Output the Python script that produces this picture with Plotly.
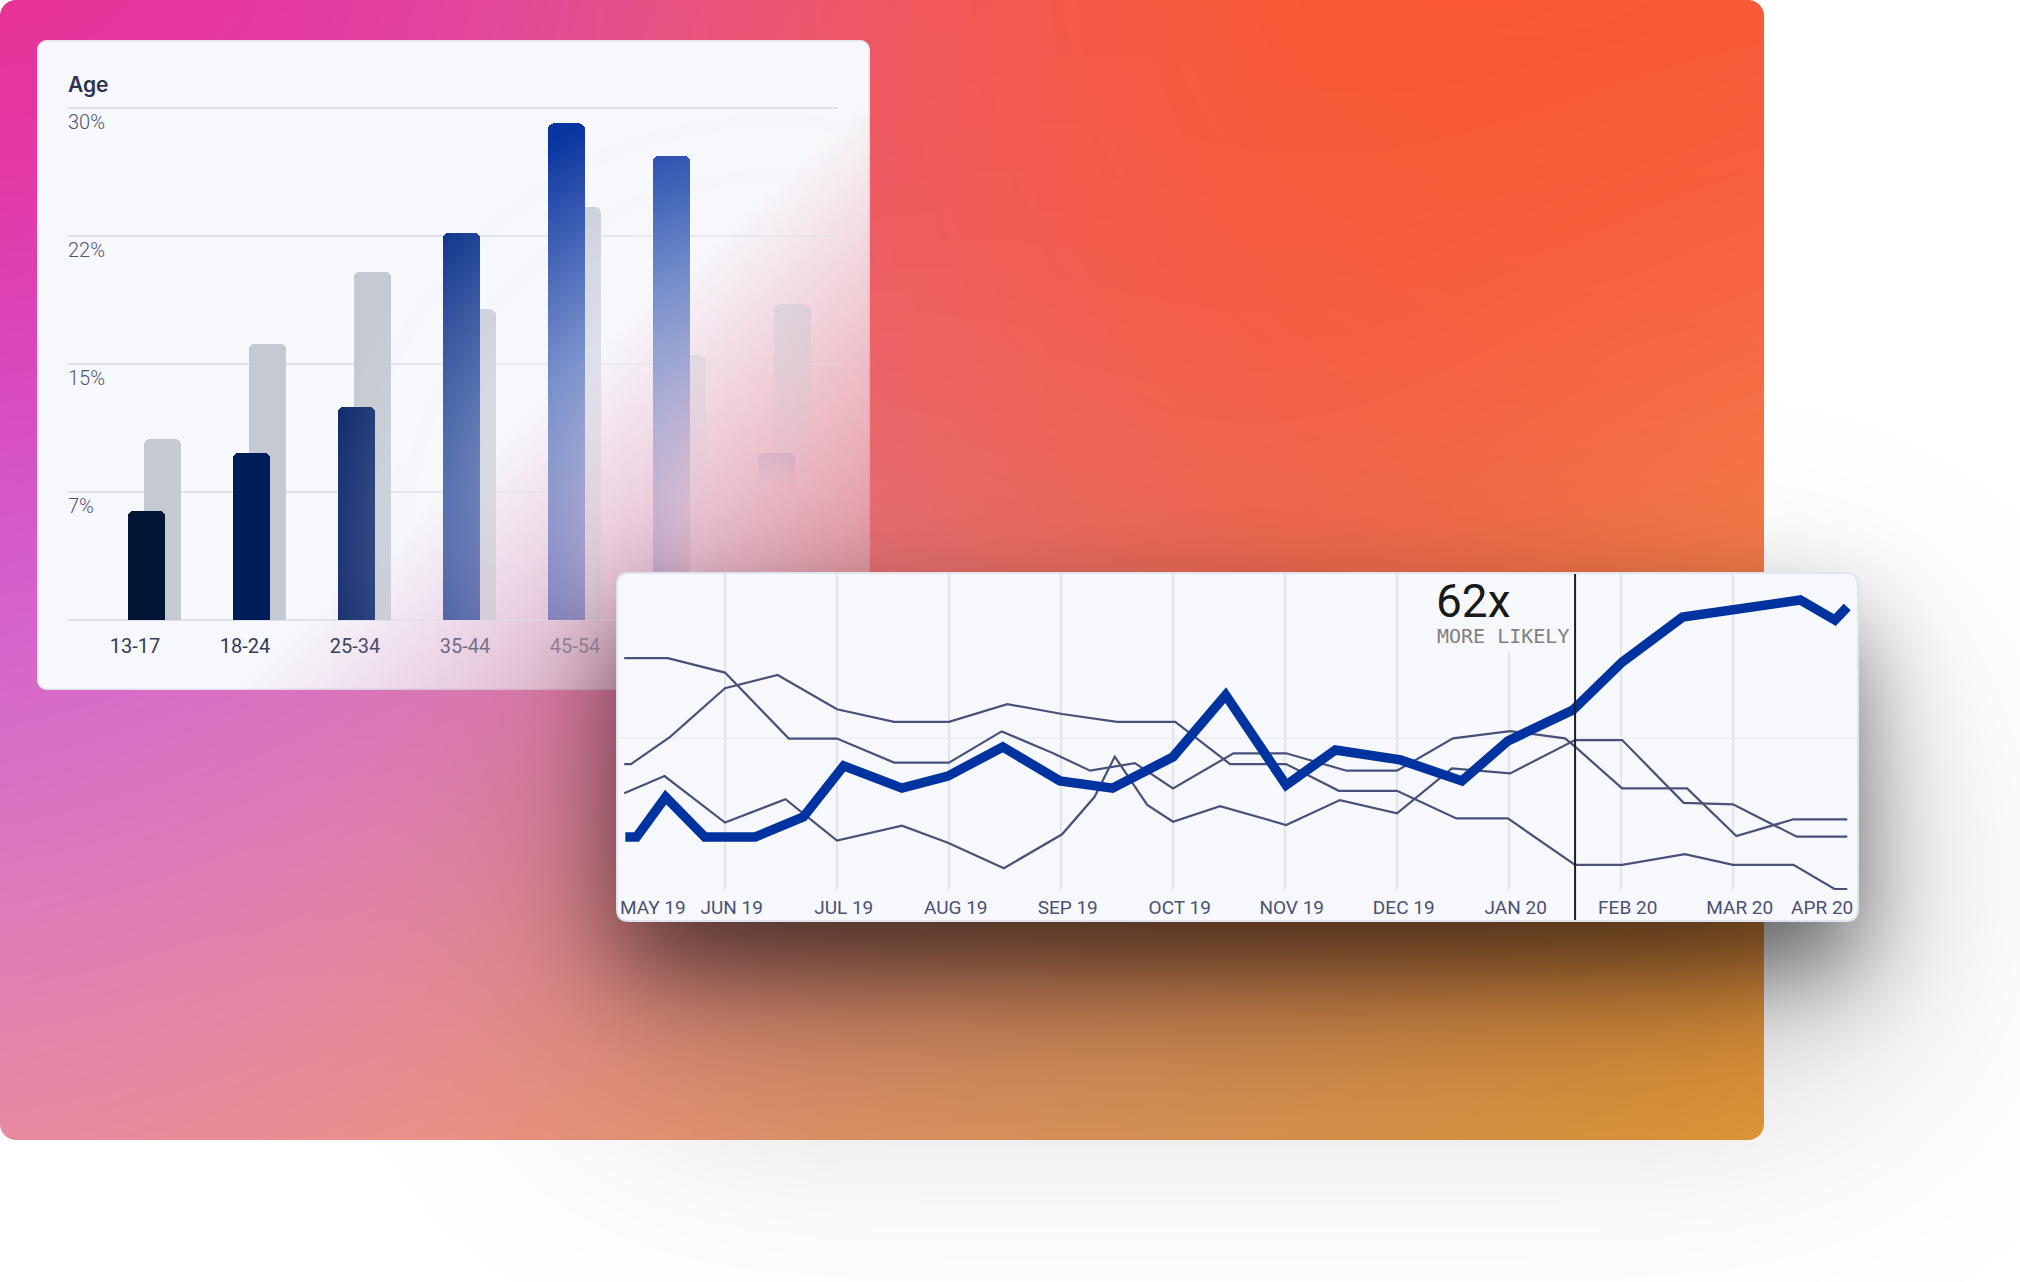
import base64
import math
import struct
import zlib

import numpy as np
import plotly.graph_objects as go

FIG_W, FIG_H = 2020, 1282

# ---------------------------------------------------------------- data
AGE_GROUPS = ["13-17", "18-24", "25-34", "35-44", "45-54", "55-64", "65+"]
AUDIENCE_PCT = [6.4, 9.8, 12.5, 22.7, 29.1, 27.2, 9.8]
BASELINE_PCT = [10.6, 16.2, 20.4, 18.2, 24.2, 15.5, 18.5]
PCT_TICKS = [0, 7.5, 15, 22.5, 30]
PCT_TICK_TEXT = ["0%", "7%", "15%", "22%", "30%"]

MONTHS = ["MAY 19", "JUN 19", "JUL 19", "AUG 19", "SEP 19", "OCT 19",
          "NOV 19", "DEC 19", "JAN 20", "FEB 20", "MAR 20", "APR 20"]

# x = months elapsed since the start of May 2019, y = relative interest index
TREND_X = [0.11, 0.21, 0.47, 0.82, 1.27, 1.70, 2.06, 2.58, 2.99, 3.48, 3.99, 4.46, 5.00,
           5.47, 6.01, 6.45, 7.03, 7.58, 7.99, 8.57, 9.01, 9.55, 10.60, 10.91, 11.02]
TREND_Y = [17.0, 17.0, 30.3, 17.0, 17.0, 23.7, 40.7, 33.3, 37.3, 47.0, 35.7, 33.3, 43.7,
           64.3, 34.3, 46.0, 42.7, 35.7, 49.0, 59.3, 75.3, 90.3, 96.0, 89.3, 93.7]

PEER_A_X = [0.10, 0.49, 1.00, 1.57, 2.00, 2.51, 3.00, 3.47, 3.92, 4.26, 4.66, 5.00, 5.54,
            6.01, 6.55, 7.00, 7.50, 8.01, 8.50, 8.59, 9.01, 9.59, 10.03, 10.54, 11.02]
PEER_A_Y = [76.6, 76.6, 71.8, 49.8, 49.8, 41.8, 41.8, 52.2, 45.1, 39.1, 41.6, 33.2, 44.9,
            44.9, 39.1, 39.1, 49.9, 52.3, 49.9, 47.1, 33.2, 33.2, 17.3, 22.9, 22.9]

PEER_B_X = [0.10, 0.16, 0.51, 1.00, 1.47, 2.00, 2.51, 3.00, 3.52, 4.01, 4.50, 5.02, 5.51,
            6.01, 6.48, 7.00, 7.53, 7.99, 8.59, 9.01, 9.57, 10.00, 10.54, 10.91, 11.02]
PEER_B_Y = [41.3, 41.3, 50.4, 66.6, 71.0, 59.6, 55.4, 55.4, 61.3, 58.0, 55.4, 55.4, 41.3,
            41.3, 32.4, 32.4, 23.2, 23.2, 7.7, 7.7, 11.3, 7.7, 7.7, -0.4, -0.4]

PEER_C_X = [0.10, 0.46, 1.00, 1.54, 2.00, 2.58, 2.99, 3.49, 4.01, 4.30, 4.48, 4.77, 5.00,
            5.42, 6.01, 6.49, 7.00, 7.49, 8.01, 8.59, 9.01, 9.56, 10.00, 10.57, 11.02]
PEER_C_Y = [31.6, 37.3, 21.8, 29.6, 15.8, 20.8, 15.1, 6.6, 17.9, 30.4, 43.8, 27.7, 22.1,
            27.3, 21.0, 29.3, 24.9, 39.9, 38.2, 49.3, 49.3, 28.4, 27.9, 17.1, 17.1]

MARKER_MONTH = 8.59          # vertical marker (mid January 2020)
HEADLINE = "62x"
SUBHEADLINE = "MORE LIKELY"

# ---------------------------------------------------------------- styles
AUDIENCE_COLORS = ["#001433", "#001d57", "#102a6c", "#0e348c", "#0a35a0", "#0d3aa5", "#0e3aab"]
BASELINE_COLOR = "#c5c9d2"
CARD_FILL = "#f7f8fc"
CARD_BORDER = "#dfe4ee"
PEER_COLOR = "#4a5179"
TREND_COLOR = "#0033a0"

# layout geometry (pixels)
BAR_CARD = (37, 40, 870, 690, 10)
LINE_CARD = (617, 573, 1858, 921, 12)
BG_RECT = (0, 0, 1764, 1140, 16)
BAR_PLOT_X = (68, 838)
BAR_PLOT_Y = (108, 620)       # pixel rows of the 30% and 0% gridlines
BAR_PLOT_PAD = 3              # extra plot height so the end gridlines are drawn
BAR_PITCH = 105.0
BAR0_CENTER = 146.5
BAR_W = 37.0
BAR_SHIFT = 16.0
LABEL_PITCH = 110.0
LABEL0_CENTER = 135.0
LINE_PLOT_Y = (573, 890)
MONTH_PX = 112.0
MONTH0_PX = 613.0
IDX_PX = 3.0
IDX50_PY = 738.0


def pxx(px):
    return px / FIG_W


def pxy(py):
    return 1.0 - py / FIG_H


def month_of(px):
    return (px - MONTH0_PX) / MONTH_PX


def idx_of(py):
    return 50.0 + (IDX50_PY - py) / IDX_PX


# ---------------------------------------------------------------- background art
def png_data_uri(arr):
    h, w, c = arr.shape
    a = arr.astype(np.int16)
    d = a.copy()
    d[:, 1:, :] = a[:, 1:, :] - a[:, :-1, :]
    d = (d % 256).astype(np.uint8).reshape(h, w * c)
    raw = np.hstack([np.ones((h, 1), np.uint8), d]).tobytes()
    comp = zlib.compress(raw, 6)

    def chunk(t, data):
        return (struct.pack(">I", len(data)) + t + data
                + struct.pack(">I", zlib.crc32(t + data) & 0xFFFFFFFF))

    ihdr = struct.pack(">IIBBBBB", w, h, 8, 6 if c == 4 else 2, 0, 0, 0)
    png = b"\x89PNG\r\n\x1a\n" + chunk(b"IHDR", ihdr) + chunk(b"IDAT", comp) + chunk(b"IEND", b"")
    return "data:image/png;base64," + base64.b64encode(png).decode()


erf_v = np.vectorize(math.erf)


def phi(z):
    return 0.5 * (1.0 + erf_v(z / math.sqrt(2.0)))


def box1d(c, a, b, s):
    return phi((c - a) / s) - phi((c - b) / s)


def rrect_sdf(XX, YY, x0, y0, x1, y1, r):
    cx = np.clip(XX, x0 + r, x1 - r)
    cy = np.clip(YY, y0 + r, y1 - r)
    return np.sqrt((XX - cx) ** 2 + (YY - cy) ** 2) - r


def hex_rgb(h):
    h = h.lstrip("#")
    return np.array([int(h[i:i + 2], 16) for i in (0, 2, 4)], np.float32)


X = np.arange(FIG_W, dtype=np.float32) + 0.5
Y = np.arange(FIG_H, dtype=np.float32) + 0.5
XX = X[None, :]
YY = Y[:, None]

BG_STOPS = [
    (0, 0, (246, 48, 118)), (220, 0, (236, 40, 146)), (450, 0, (214, 62, 196)),
    (650, 0, (216, 74, 196)), (800, 0, (228, 86, 150)), (890, 10, (240, 88, 100)),
    (980, 20, (250, 90, 56)), (1120, 0, (255, 90, 20)), (1300, 20, (255, 92, 10)),
    (1500, 40, (252, 86, 40)), (1764, 30, (247, 82, 62)),
    (0, 200, (232, 44, 150)), (0, 400, (212, 62, 198)), (0, 580, (202, 84, 224)),
    (0, 730, (196, 96, 232)), (220, 740, (204, 100, 230)), (430, 730, (206, 104, 222)),
    (600, 720, (210, 126, 200)), (0, 860, (212, 110, 220)), (250, 860, (222, 120, 206)),
    (0, 990, (240, 150, 150)), (380, 990, (242, 152, 120)), (560, 1080, (244, 162, 90)),
    (0, 1140, (248, 164, 120)), (300, 1140, (247, 163, 104)), (700, 1140, (240, 160, 80)),
    (1050, 1140, (222, 162, 88)), (1400, 1140, (220, 162, 72)), (1764, 1140, (228, 166, 20)),
    (1764, 960, (226, 156, 60)), (1764, 780, (246, 140, 84)), (1764, 600, (249, 150, 86)),
    (1764, 460, (249, 128, 72)), (1764, 250, (246, 84, 62)), (1450, 250, (245, 78, 60)),
    (1100, 250, (245, 82, 58)), (920, 200, (242, 90, 80)), (920, 420, (236, 108, 104)),
    (1300, 450, (244, 82, 66)), (900, 560, (228, 134, 142)), (1150, 560, (236, 112, 96)),
    (1450, 560, (242, 106, 80)), (800, 1000, (225, 150, 110)), (1250, 1000, (222, 150, 95)),
]
SIG = 270.0
num = np.zeros((FIG_H, FIG_W, 3), np.float32)
den = np.full((FIG_H, FIG_W), 1e-12, np.float32)
for sx, sy, col in BG_STOPS:
    w = np.exp(-((Y - sy) ** 2) / (2 * SIG ** 2))[:, None] * np.exp(-((X - sx) ** 2) / (2 * SIG ** 2))[None, :]
    num += w[..., None] * np.array(col, np.float32)
    den += w
B = num / den[..., None]

# soft drop shadow of the line card
lx0, ly0, lx1, ly1, lr = LINE_CARD
S = (0.48 * np.outer(box1d(Y, ly0 + 50, ly1 + 50, 50), box1d(X, lx0, lx1, 50))
     + 0.25 * np.outer(box1d(Y, ly0 + 130, ly1 + 130, 130), box1d(X, lx0, lx1, 130))).astype(np.float32)
S = np.clip(S, 0, 0.85)

cov_bg = np.clip(0.5 - rrect_sdf(XX, YY, *BG_RECT), 0, 1)[..., None]
base = 255.0 * (1 - cov_bg) + B * cov_bg
base = base * (1 - S)[..., None]

# bar card, dissolving toward the lower right
bx0, by0, bx1, by1, br = BAR_CARD
sdf_card = rrect_sdf(XX, YY, *BAR_CARD)
cov_card = np.clip(0.5 - sdf_card, 0, 1)
bw = np.clip(sdf_card + 2.0, 0, 1)[..., None]
card_col = hex_rgb(CARD_FILL) * (1 - bw) + hex_rgb(CARD_BORDER) * bw
t_card = 0.679 * XX + 0.734 * YY
Wmap = (1 - np.clip((t_card - 661.0) / 417.0, 0, 1))[..., None]
B_muted = 0.65 * B + 0.35 * np.array([214, 172, 196], np.float32)
P = Wmap * card_col + (1 - Wmap) * B_muted
img = base * (1 - cov_card[..., None]) + P * cov_card[..., None]
bg_uri = png_data_uri(np.clip(img + 0.5, 0, 255).astype(np.uint8))

# overlay that fades the card content into the background
ys, xs = slice(by0, by1), slice(bx0, bx1)
d1 = np.sqrt((XX - 774) ** 2 + (YY - 544) ** 2)
A = 1 - np.clip((d1 - 60) / 400.0, 0, 1)
A = np.broadcast_to(A, (FIG_H, FIG_W))[ys, xs]
Ssub = S[ys, xs]
Psub = P[ys, xs]
alpha = Ssub + A - Ssub * A
col = ((1 - Ssub) * A)[..., None] * Psub / np.maximum(alpha, 1e-6)[..., None]
cov_line = np.clip(0.5 - rrect_sdf(XX, YY, *LINE_CARD), 0, 1)
alpha = alpha * cov_card[ys, xs] * (1 - cov_line[ys, xs])
ov = np.dstack([np.clip(col, 0, 255), np.clip(alpha * 255, 0, 255)])
ov_uri = png_data_uri(np.clip(ov + 0.5, 0, 255).astype(np.uint8))


def rounded_path(x0, y0, x1, y1, rx, ry, fx, fy, square_bottom=False):
    """rounded rectangle path; fx/fy convert pixel coordinates to shape coordinates"""
    p = [f"M {fx(x0)},{fy(y0 + ry)}",
         f"Q {fx(x0)},{fy(y0)} {fx(x0 + rx)},{fy(y0)}",
         f"L {fx(x1 - rx)},{fy(y0)}",
         f"Q {fx(x1)},{fy(y0)} {fx(x1)},{fy(y0 + ry)}"]
    if square_bottom:
        p.append(f"L {fx(x1)},{fy(y1)} L {fx(x0)},{fy(y1)} Z")
    else:
        p.append(f"L {fx(x1)},{fy(y1 - ry)}")
        p.append(f"Q {fx(x1)},{fy(y1)} {fx(x1 - rx)},{fy(y1)}")
        p.append(f"L {fx(x0 + rx)},{fy(y1)}")
        p.append(f"Q {fx(x0)},{fy(y1)} {fx(x0)},{fy(y1 - ry)} Z")
    return " ".join(p)


# ---------------------------------------------------------------- figure
fig = go.Figure()

bar_idx = list(range(len(AGE_GROUPS)))
unit_w = BAR_W / BAR_PITCH
fig.add_trace(go.Bar(
    x=bar_idx, y=BASELINE_PCT, width=unit_w, offset=(BAR_SHIFT - BAR_W / 2) / BAR_PITCH,
    marker=dict(color=BASELINE_COLOR, line=dict(width=0), cornerradius=6),
    xaxis="x", yaxis="y", hoverinfo="skip", showlegend=False))
fig.add_trace(go.Bar(
    x=bar_idx, y=AUDIENCE_PCT, width=unit_w, offset=-BAR_W / 2 / BAR_PITCH,
    marker=dict(color=AUDIENCE_COLORS, line=dict(width=0), cornerradius=6),
    xaxis="x", yaxis="y", hoverinfo="skip", showlegend=False))

for xs_, ys_ in [(PEER_A_X, PEER_A_Y), (PEER_B_X, PEER_B_Y), (PEER_C_X, PEER_C_Y)]:
    fig.add_trace(go.Scatter(x=xs_, y=ys_, mode="lines", line=dict(color=PEER_COLOR, width=2.2),
                             xaxis="x2", yaxis="y2", hoverinfo="skip", showlegend=False))
fig.add_trace(go.Scatter(x=TREND_X, y=TREND_Y, mode="lines", line=dict(color=TREND_COLOR, width=9.5),
                         xaxis="x2", yaxis="y2", hoverinfo="skip", showlegend=False))

label_pos = [(i * LABEL_PITCH + LABEL0_CENTER - BAR0_CENTER) / BAR_PITCH for i in bar_idx]

x2_min, x2_max = month_of(LINE_CARD[0]), month_of(LINE_CARD[2])
half_label = 0.32
month_pos = [min(max(i + 0.06, x2_min + half_label), x2_max - half_label) for i in range(len(MONTHS))]

pct_per_px = PCT_TICKS[-1] / (BAR_PLOT_Y[1] - BAR_PLOT_Y[0])
pct_range = [-BAR_PLOT_PAD * pct_per_px, PCT_TICKS[-1] + BAR_PLOT_PAD * pct_per_px]

shapes = [
    # line card body (paper) incl. label strip
    dict(type="path", xref="paper", yref="paper", layer="below",
         path=rounded_path(lx0, ly0, lx1, ly1, lr, lr, pxx, pxy),
         fillcolor=CARD_FILL, line=dict(width=0)),
    # line card body inside the subplot: keeps the age bars behind the card
    dict(type="path", xref="x2", yref="y2", layer="below",
         path=rounded_path(lx0, ly0, lx1, LINE_PLOT_Y[1], lr, lr,
                           month_of, idx_of, square_bottom=True),
         fillcolor=CARD_FILL, line=dict(width=0)),
    # knock-out behind the headline
    dict(type="rect", xref="x2", yref="y2", layer="between",
         x0=month_of(1430), x1=month_of(1570), y0=idx_of(652), y1=idx_of(575),
         fillcolor=CARD_FILL, line=dict(width=0)),
    # card outline
    dict(type="path", xref="paper", yref="paper", layer="above",
         path=rounded_path(lx0, ly0, lx1, ly1, lr, lr, pxx, pxy),
         fillcolor="rgba(0,0,0,0)", line=dict(color=CARD_BORDER, width=2)),
    # vertical marker
    dict(type="line", xref="x2", yref="paper", layer="above",
         x0=MARKER_MONTH, x1=MARKER_MONTH, y0=pxy(ly1 - 1), y1=pxy(ly0 + 1),
         line=dict(color="#1e1e1e", width=2)),
]

images = [
    dict(source=bg_uri, xref="paper", yref="paper", x=0, y=1, sizex=1, sizey=1,
         xanchor="left", yanchor="top", sizing="stretch", layer="below"),
    dict(source=ov_uri, xref="paper", yref="paper", x=pxx(bx0), y=pxy(by0),
         sizex=(bx1 - bx0) / FIG_W, sizey=(by1 - by0) / FIG_H,
         xanchor="left", yanchor="top", sizing="stretch", layer="above"),
]

annotations = [
    dict(text="Age", xref="paper", yref="paper", x=pxx(66), y=pxy(85), xanchor="left",
         yanchor="middle", showarrow=False,
         font=dict(family="Inter, Roboto, sans-serif", size=21, color="#2e3450", weight=600)),
    dict(text=HEADLINE, xref="paper", yref="paper", x=pxx(1434), y=pxy(601), xanchor="left",
         yanchor="middle", showarrow=False,
         font=dict(family="Roboto, sans-serif", size=46, color="#1a1a1a")),
    dict(text=SUBHEADLINE, xref="paper", yref="paper", x=pxx(1435), y=pxy(636), xanchor="left",
         yanchor="middle", showarrow=False,
         font=dict(family="DejaVu Sans Mono, monospace", size=20, color="#808080")),
]

fig.update_layout(
    width=FIG_W, height=FIG_H, margin=dict(l=0, r=0, t=0, b=0, pad=0),
    paper_bgcolor="white", plot_bgcolor="rgba(0,0,0,0)",
    barmode="overlay", bargap=0, showlegend=False,
    font=dict(family="Roboto, sans-serif"),
    xaxis=dict(domain=[pxx(BAR_PLOT_X[0]), pxx(BAR_PLOT_X[1])],
               range=[(BAR_PLOT_X[0] - BAR0_CENTER) / BAR_PITCH, (BAR_PLOT_X[1] - BAR0_CENTER) / BAR_PITCH],
               tickmode="array", tickvals=label_pos, ticktext=AGE_GROUPS,
               tickfont=dict(family="Roboto", size=20, color="#363b57"),
               ticks="", showgrid=False, zeroline=False, showline=False, ticklabelstandoff=9,
               fixedrange=True),
    yaxis=dict(domain=[pxy(BAR_PLOT_Y[1] + BAR_PLOT_PAD), pxy(BAR_PLOT_Y[0] - BAR_PLOT_PAD)],
               range=pct_range,
               tickmode="array", tickvals=PCT_TICKS, ticktext=PCT_TICK_TEXT,
               ticklabelposition="inside bottom", ticklabelstandoff=-3,
               tickfont=dict(family="Roboto", size=20, color="#50566f", weight=300),
               ticks="", showgrid=True, gridcolor="#dfe2ea", gridwidth=2,
               zeroline=False, showline=False, fixedrange=True),
    xaxis2=dict(domain=[pxx(LINE_CARD[0]), pxx(LINE_CARD[2])], range=[x2_min, x2_max],
                anchor="y2", tickmode="array", tickvals=month_pos, ticktext=MONTHS,
                tickfont=dict(family="Roboto", size=19, color="#4b5172"),
                ticks="", showgrid=False, zeroline=False, showline=False, ticklabelstandoff=4,
                minor=dict(tickmode="array", tickvals=list(range(1, 11)), showgrid=True,
                           gridcolor="#e1e4ea", gridwidth=2, ticks=""),
                fixedrange=True),
    yaxis2=dict(domain=[pxy(LINE_PLOT_Y[1]), pxy(LINE_PLOT_Y[0])],
                range=[idx_of(LINE_PLOT_Y[1]), idx_of(LINE_PLOT_Y[0])], anchor="x2",
                tickmode="array", tickvals=[50], showticklabels=False, ticks="",
                showgrid=True, gridcolor="#eef0f4", gridwidth=1.5, zeroline=False,
                showline=False, fixedrange=True),
    shapes=shapes, images=images, annotations=annotations,
)

fig.write_html("out.html", config=dict(displayModeBar=False, staticPlot=True))
